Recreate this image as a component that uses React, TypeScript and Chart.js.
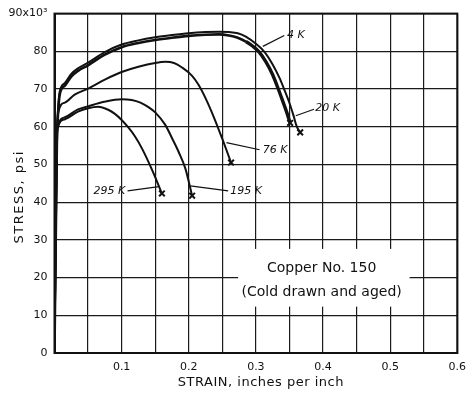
import { useEffect, useRef } from 'react';
import { Chart, registerables } from 'chart.js';

Chart.register(...registerables);

// ---- data (strain in in/in, stress in ksi) ----
const seriesNames = ['4 K', '20 K', '76 K', '195 K', '295 K'];

const strain4K = [0, 0.0035, 0.0055, 0.008, 0.0155, 0.025, 0.035, 0.05, 0.075, 0.1, 0.125, 0.15, 0.175, 0.2, 0.225, 0.245, 0.26, 0.273, 0.285, 0.295, 0.305, 0.315, 0.325, 0.333, 0.34, 0.346, 0.351];
const stress4K = [0, 55, 64, 68.7, 70.9, 73.3, 74.8, 76.3, 79.1, 81.1, 82.2, 83, 83.6, 84.1, 84.4, 84.5, 84.2, 83.6, 82.6, 81.4, 79.8, 77.2, 73.8, 70.2, 66.8, 63.8, 61];

const strain20K = [0, 0.0035, 0.0055, 0.008, 0.0155, 0.025, 0.035, 0.05, 0.075, 0.1, 0.125, 0.15, 0.175, 0.2, 0.225, 0.245, 0.26, 0.273, 0.285, 0.3, 0.313, 0.325, 0.335, 0.342, 0.35, 0.356, 0.361, 0.366];
const stress20K = [0, 56, 65, 69.5, 71.6, 74, 75.5, 77, 79.8, 81.8, 82.9, 83.7, 84.3, 84.8, 85.1, 85.2, 85.1, 84.8, 83.9, 82, 79.8, 76.5, 73, 70, 66.3, 63, 60, 58.5];

const strain76K = [0, 0.0035, 0.0056, 0.0155, 0.03, 0.05, 0.075, 0.1, 0.125, 0.15, 0.165, 0.178, 0.19, 0.205, 0.215, 0.226, 0.237, 0.251, 0.263];
const stress76K = [0, 54, 63.8, 66.4, 68.5, 70.1, 72.5, 74.5, 75.9, 76.9, 77.2, 76.9, 75.7, 73.5, 71, 67.2, 62.7, 56.3, 50.5];

const strain195K = [0, 0.003, 0.0045, 0.0155, 0.035, 0.05, 0.074, 0.1, 0.115, 0.128, 0.14, 0.15, 0.165, 0.175, 0.185, 0.195, 0.205];
const stress195K = [0, 54, 59.8, 62.5, 64.6, 65.4, 66.6, 67.3, 67.1, 66.4, 65.2, 63.8, 60.5, 57, 53.3, 48.9, 41.7];

const strain295K = [0, 0.003, 0.0045, 0.0155, 0.035, 0.05, 0.065, 0.08, 0.09, 0.1, 0.11, 0.12, 0.131, 0.146, 0.16];
const stress295K = [0, 54, 59.5, 62, 64, 64.9, 65.3, 64.5, 63.4, 61.8, 59.8, 57.4, 54, 48.3, 42.3];

const xTickValues = [0.1, 0.2, 0.3, 0.4, 0.5, 0.6];
const xTickLabels = ['0.1', '0.2', '0.3', '0.4', '0.5', '0.6'];
const yTickValues = [0, 10, 20, 30, 40, 50, 60, 70, 80, 90];
const yTickLabels = ['0', '10', '20', '30', '40', '50', '60', '70', '80', '90x10³'];

const xTitle = 'STRAIN, inches per inch';
const yTitle = 'STRESS, psi';
const noteLines = ['Copper No. 150', '(Cold drawn and aged)'];

// ---- annotation placement (data coordinates) ----
const noteBox = { x0: 0.2735, x1: 0.529, y0: 27.6, y1: 12.3 };
const noteTextX = 0.398;
const noteTextY = [22.5, 16.1];

const curveLabels = [
  { text: '4 K', tx: 0.3465, ty: 84.25, align: 'left', lx0: 0.3104, ly0: 81.3, lx1: 0.3423, ly1: 84.2 },
  { text: '20 K', tx: 0.3885, ty: 64.8, align: 'left', lx0: 0.3594, ly0: 62.9, lx1: 0.3866, ly1: 64.65 },
  { text: '76 K', tx: 0.3103, ty: 53.7, align: 'left', lx0: 0.2562, ly0: 55.8, lx1: 0.3055, ly1: 53.9 },
  { text: '195 K', tx: 0.2617, ty: 42.8, align: 'left', lx0: 0.2023, ly0: 44.3, lx1: 0.2587, ly1: 43.0 },
  { text: '295 K', tx: 0.1054, ty: 42.8, align: 'right', lx0: 0.1555, ly0: 44.1, lx1: 0.1088, ly1: 43.0 },
];

const zip = (xs: number[], ys: number[]) => xs.map((x, i) => ({ x, y: ys[i] }));

const FONT = '"DejaVu Sans", sans-serif';

const overlayPlugin = {
  id: 'overlay',
  beforeDatasetsDraw(chart: any) {
    const { ctx, chartArea, scales } = chart;
    const xs = scales.x;
    const ys = scales.y;
    ctx.save();
    const bx0 = xs.getPixelForValue(noteBox.x0);
    const bx1 = xs.getPixelForValue(noteBox.x1);
    const by0 = ys.getPixelForValue(noteBox.y0);
    const by1 = ys.getPixelForValue(noteBox.y1);
    ctx.fillStyle = '#ffffff';
    ctx.fillRect(bx0, by0, bx1 - bx0, by1 - by0);
    ctx.fillStyle = '#111';
    ctx.font = `14px ${FONT}`;
    ctx.textAlign = 'center';
    ctx.textBaseline = 'middle';
    noteLines.forEach((t, i) => {
      ctx.fillText(t, xs.getPixelForValue(noteTextX), ys.getPixelForValue(noteTextY[i]));
    });
    ctx.strokeStyle = '#111';
    ctx.lineWidth = 2;
    ctx.strokeRect(chartArea.left, chartArea.top, chartArea.right - chartArea.left, chartArea.bottom - chartArea.top);
    ctx.font = `13px ${FONT}`;
    ctx.fillStyle = '#111';
    ctx.textAlign = 'center';
    ctx.textBaseline = 'middle';
    (ctx as any).letterSpacing = '0.5px';
    ctx.fillText(xTitle, (chartArea.left + chartArea.right) / 2 + 5, chartArea.bottom + 30);
    ctx.save();
    ctx.translate(20, chartArea.top + (chartArea.bottom - chartArea.top) * 0.54);
    ctx.rotate(-Math.PI / 2);
    (ctx as any).letterSpacing = '1.5px';
    ctx.fillText(yTitle, 0, 0);
    ctx.restore();
    (ctx as any).letterSpacing = '0px';
    ctx.restore();
  },
  afterDatasetsDraw(chart: any) {
    const { ctx, scales } = chart;
    const xs = scales.x;
    const ys = scales.y;
    ctx.save();
    ctx.strokeStyle = '#111';
    ctx.fillStyle = '#111';
    ctx.lineWidth = 1.2;
    ctx.font = `italic 11px ${FONT}`;
    ctx.textBaseline = 'middle';
    curveLabels.forEach((l) => {
      ctx.beginPath();
      ctx.moveTo(xs.getPixelForValue(l.lx0), ys.getPixelForValue(l.ly0));
      ctx.lineTo(xs.getPixelForValue(l.lx1), ys.getPixelForValue(l.ly1));
      ctx.stroke();
      ctx.textAlign = l.align as CanvasTextAlign;
      ctx.fillText(l.text, xs.getPixelForValue(l.tx), ys.getPixelForValue(l.ty));
    });
    ctx.restore();
  },
};

export default function App() {
  const canvasRef = useRef<HTMLCanvasElement | null>(null);

  useEffect(() => {
    const canvas = canvasRef.current;
    if (!canvas) return;
    const series = [
      { name: seriesNames[0], data: zip(strain4K, stress4K), thick: true },
      { name: seriesNames[1], data: zip(strain20K, stress20K), thick: false },
      { name: seriesNames[2], data: zip(strain76K, stress76K), thick: false },
      { name: seriesNames[3], data: zip(strain195K, stress195K), thick: false },
      { name: seriesNames[4], data: zip(strain295K, stress295K), thick: false },
    ];
    const chart = new Chart(canvas, {
      type: 'line',
      data: {
        datasets: series.map((s) => ({
          label: s.name,
          data: s.data,
          borderColor: '#111',
          backgroundColor: '#111',
          borderWidth: 2,
          fill: false,
          cubicInterpolationMode: 'monotone' as const,
          pointStyle: 'crossRot' as const,
          pointRadius: (c: any) => (c.dataIndex === s.data.length - 1 ? 4 : 0),
          pointBorderWidth: 2,
          pointBorderColor: '#111',
          segment: s.thick
            ? { borderWidth: (c: any) => (c.p0.parsed.x >= 0.28 ? 3.4 : 2.6) }
            : undefined,
        })),
      },
      options: {
        animation: false,
        responsive: true,
        maintainAspectRatio: false,
        layout: { padding: { top: 10, right: 12, left: 0, bottom: 0 } },
        plugins: {
          legend: { display: false },
          tooltip: { enabled: false },
        },
        scales: {
          x: {
            type: 'linear',
            min: 0,
            max: 0.6,
            afterFit: (s: any) => { s.height = 41; },
            afterBuildTicks: (s: any) => {
              const t = [];
              for (let i = 0; i <= 12; i++) t.push({ value: i * 0.05 });
              s.ticks = t;
            },
            ticks: {
              padding: 8,
              color: '#111',
              font: { family: FONT, size: 11 },
              maxRotation: 0,
              autoSkip: false,
              callback: (v: any) => {
                const i = xTickValues.findIndex((t) => Math.abs(t - Number(v)) < 1e-6);
                return i >= 0 ? xTickLabels[i] : '';
              },
            },
            grid: { color: '#1a1a1a', lineWidth: 1.2, drawTicks: false },
            border: { display: true, color: '#111', width: 2 },
          },
          y: {
            type: 'linear',
            min: 0,
            max: 90,
            afterFit: (s: any) => { s.width = 54.5; },
            ticks: {
              stepSize: 10,
              padding: 7,
              color: '#111',
              font: { family: FONT, size: 11 },
              callback: (v: any) => {
                const i = yTickValues.findIndex((t) => Math.abs(t - Number(v)) < 1e-6);
                return i >= 0 ? yTickLabels[i] : '';
              },
            },
            grid: { color: '#1a1a1a', lineWidth: 1.2, drawTicks: false },
            border: { display: true, color: '#111', width: 2 },
          },
        },
      },
      plugins: [overlayPlugin],
    });
    return () => chart.destroy();
  }, []);

  return (
    <div style={{ position: 'absolute', left: 0, top: 0, width: 474, height: 394, background: '#fff' }}>
      <canvas ref={canvasRef} />
    </div>
  );
}
